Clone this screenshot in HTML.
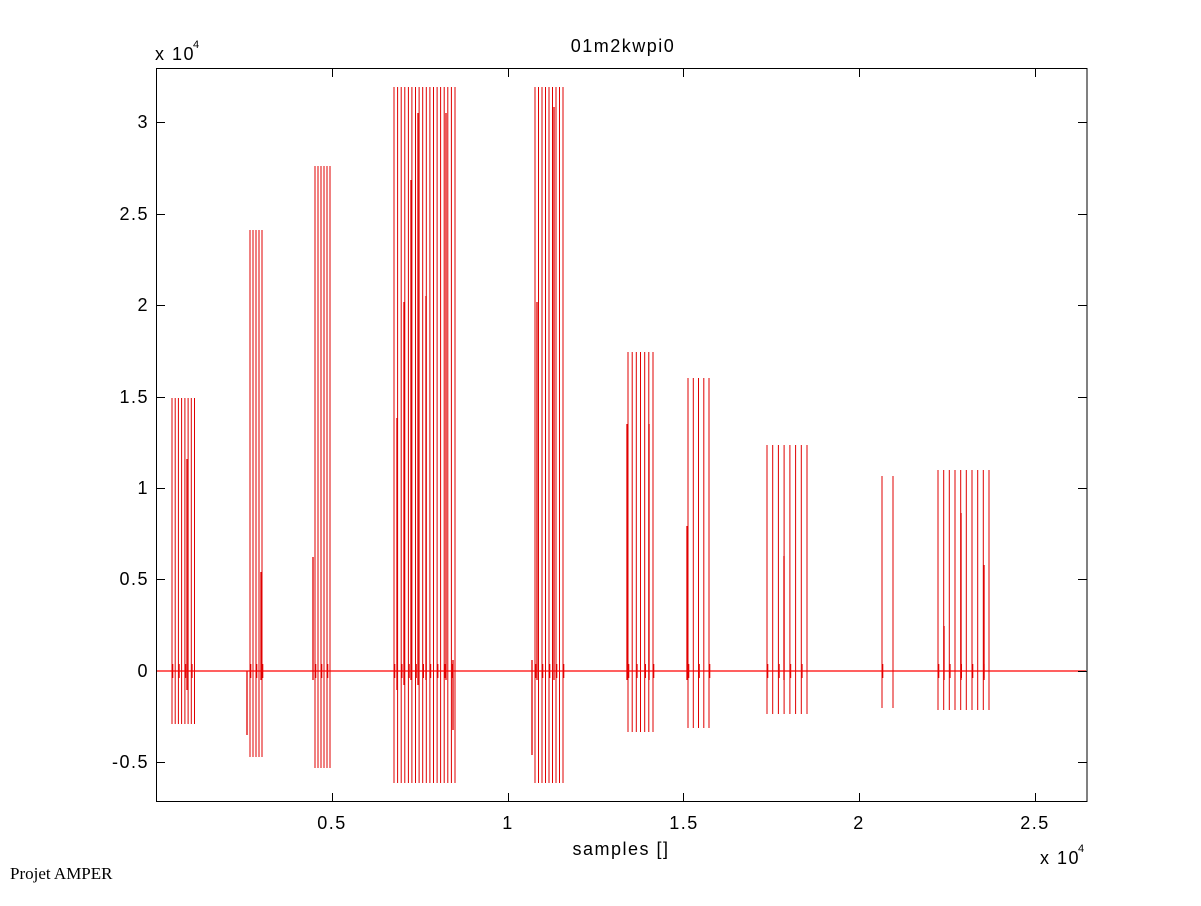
<!DOCTYPE html>
<html><head><meta charset="utf-8"><style>
body{margin:0;background:#fff}
svg text{font-family:"Liberation Sans",Arial,sans-serif;font-size:18px;letter-spacing:1.5px;fill:#000}
</style></head><body>
<svg id="s" width="1201" height="901" viewBox="0 0 1201 901" xmlns="http://www.w3.org/2000/svg">
<rect x="0" y="0" width="1201" height="901" fill="#fff"/>
<g id="data" stroke="#e00000" stroke-width="1" fill="none"></g>
<rect x="156.5" y="68.5" width="930.5" height="733" fill="none" stroke="#000" stroke-width="1"/>
<line x1="157" y1="671" x2="1086" y2="671" stroke="#ff0000" stroke-width="1.2"/>
<g stroke="#000" stroke-width="1">
<line x1="332.5" y1="802" x2="332.5" y2="793"/><line x1="332.5" y1="68" x2="332.5" y2="77"/>
<line x1="508.5" y1="802" x2="508.5" y2="793"/><line x1="508.5" y1="68" x2="508.5" y2="77"/>
<line x1="683.5" y1="802" x2="683.5" y2="793"/><line x1="683.5" y1="68" x2="683.5" y2="77"/>
<line x1="859.5" y1="802" x2="859.5" y2="793"/><line x1="859.5" y1="68" x2="859.5" y2="77"/>
<line x1="1035.5" y1="802" x2="1035.5" y2="793"/><line x1="1035.5" y1="68" x2="1035.5" y2="77"/>
<line x1="156" y1="122.5" x2="165" y2="122.5"/><line x1="1087" y1="122.5" x2="1078" y2="122.5"/>
<line x1="156" y1="214.5" x2="165" y2="214.5"/><line x1="1087" y1="214.5" x2="1078" y2="214.5"/>
<line x1="156" y1="305.5" x2="165" y2="305.5"/><line x1="1087" y1="305.5" x2="1078" y2="305.5"/>
<line x1="156" y1="397.5" x2="165" y2="397.5"/><line x1="1087" y1="397.5" x2="1078" y2="397.5"/>
<line x1="156" y1="488.5" x2="165" y2="488.5"/><line x1="1087" y1="488.5" x2="1078" y2="488.5"/>
<line x1="156" y1="579.5" x2="165" y2="579.5"/><line x1="1087" y1="579.5" x2="1078" y2="579.5"/>
<line x1="1087" y1="671.5" x2="1078" y2="671.5"/>
<line x1="156" y1="762.5" x2="165" y2="762.5"/><line x1="1087" y1="762.5" x2="1078" y2="762.5"/>
</g>
<g text-anchor="end">
<text x="149" y="128">3</text><text x="149" y="220">2.5</text><text x="149" y="311">2</text>
<text x="149" y="403">1.5</text><text x="149" y="494">1</text><text x="149" y="585">0.5</text>
<text x="149" y="677">0</text><text x="149" y="768">-0.5</text>
</g>
<g text-anchor="middle">
<text x="332" y="829">0.5</text><text x="508" y="829">1</text><text x="684" y="829">1.5</text>
<text x="859" y="829">2</text><text x="1035" y="829">2.5</text>
<text x="621" y="855">samples []</text>
<text x="623" y="52">01m2kwpi0</text>
</g>
<text x="155" y="60">x 10</text><text x="193" y="48" style="font-size:11px;letter-spacing:0">4</text>
<text x="1040" y="864">x 10</text><text x="1078" y="852" style="font-size:11px;letter-spacing:0">4</text>
<text x="10" y="879" style="font-family:'Liberation Serif',serif;font-size:17px;letter-spacing:0">Projet AMPER</text>
</svg>
<script>
var g=document.getElementById('data'),h='';
function L(x,y1,y2,w){h+='<line x1="'+x+'" y1="'+y1+'" x2="'+x+'" y2="'+y2+'"'+(w?' stroke-width="'+w+'"':'')+'/>';}
var B=[[172,194.5,8,398,724],[250,262,5,230,757],[315,330,6,166,768],[394,455,18,87,783],[535,563,9,87,783],[628,653,7,352,732],[688,709,5,378,728],[767,807,8,445,714],[882,893,2,476,708],[938,989,10,470,710]];
B.forEach(function(b){for(var i=0;i<b[2];i++){var x=(b[0]+(b[1]-b[0])*i/(b[2]-1)).toFixed(1);L(x,b[3],b[4]);if(i%2==0)L((+x+0.8).toFixed(1),664,678,1);}});
[[187,459,690],[247,671,735],[261,572,680],[313,557,680],[397,418,690],[404,302,685],[411,180,680],[418,113,685],[426,296,680],[446,113,680],[453,660,730],[532,660,755],[537,302,680],[554,107,680],[627,424,680],[649,424,680],[687,526,680],[784,556,680],[944,626,680],[961,513,680],[984,565,680]].forEach(function(s){L(s[0],s[1],s[2],1.3);});
g.innerHTML=h;
</script>
</body></html>
